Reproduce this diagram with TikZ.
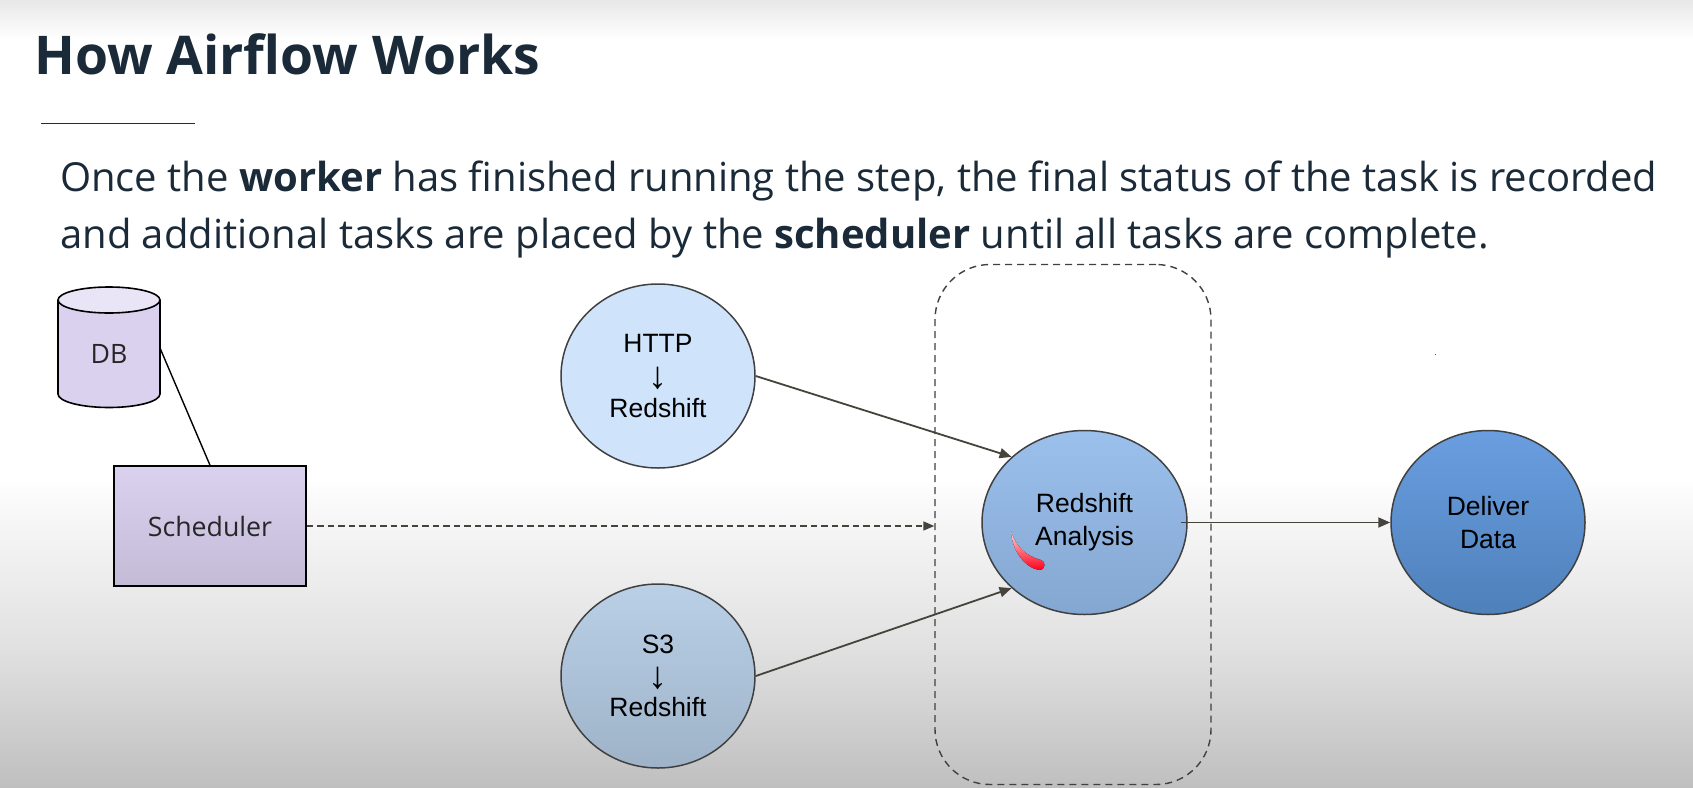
\documentclass[tikz,border=0pt]{standalone}
\usepackage{fontspec}
\setmainfont{Open Sans}
\newfontfamily\arialf{Liberation Sans}
\usetikzlibrary{arrows.meta,shapes.geometric,calc}
\definecolor{inkc}{HTML}{1B2A38}
\definecolor{linec}{HTML}{45433C}
\tikzset{
  x=1pt,y=-1pt,
  flow/.style={draw=linec,line width=1.8pt,-{Triangle[length=12pt,width=10pt]}},
  taskc/.style={ellipse,draw=black!75,line width=1.5pt,minimum width=194pt,minimum height=184pt,inner sep=0pt,align=center,font=\arialf\fontsize{26.5}{33}\selectfont,text=black},
  bodytxt/.style={anchor=base west,inner sep=0pt,text=inkc,font=\fontsize{40}{44}\selectfont},
  purtxt/.style={font=\fontsize{26.7}{32}\selectfont,text=black!85},
}
\newcommand{\downarrowtxt}{\smash{\raisebox{-4pt}{\arialf\fontsize{38}{33}\selectfont ↓}}}
\begin{document}
\begin{tikzpicture}
\useasboundingbox (0,0) rectangle (1693,787);
% background
\fill[white] (0,0) rectangle (1693,787);
\shade[top color=black!9,bottom color=white] (0,0) rectangle (1693,40);
\shade[top color=white,bottom color=black!2] (0,478) rectangle (1693,500);
\shade[top color=black!2,bottom color=black!12] (0,499.5) rectangle (1693,650);
\shade[top color=black!12,bottom color=black!25] (0,649.5) rectangle (1693,787);
% title
\node[anchor=base west,inner sep=0pt,text=inkc,font=\bfseries\fontsize{53.4}{54}\selectfont] (title) at (34,74) {How Airflow Works};
\coordinate (ruleL) at (41,123.5);
\coordinate (ruleR) at (195,123.5);
\draw[black!70!brown,line width=1.3pt] (ruleL) -- (ruleR);
\node[bodytxt] (lineA) at (60,191) {Once the \textbf{worker} has finished running the step, the final status of the task is recorded};
\node[bodytxt] (lineB) at (60,248) {and additional tasks are placed by the \textbf{scheduler} until all tasks are complete.};
% dashed group
\node[draw=black!75,dashed,dash pattern=on 7pt off 5pt,line width=1.4pt,rounded corners=55pt,minimum width=276pt,minimum height=520pt,inner sep=0pt] (group) at (1073,524.5) {};
% DB cylinder
\coordinate (dbtop) at (109,300);
\fill[fill={rgb,255:red,217;green,209;blue,238}] (58,300) -- (58,394) arc[start angle=180,end angle=0,x radius=51,y radius=13.5] -- (160,300) arc[start angle=0,end angle=180,x radius=51,y radius=13.5] -- cycle;
\draw[black,line width=1.6pt,fill={rgb,255:red,234;green,229;blue,246}] (dbtop) ellipse[x radius=51,y radius=13];
\draw[black,line width=1.6pt] (58,300) -- (58,394) arc[start angle=180,end angle=0,x radius=51,y radius=13.5] -- (160,300);
\node[inner sep=0pt,purtxt] (db) at (109,354) {DB};
\coordinate (dbR) at (160,348);
% scheduler
\node[rectangle,draw=black,line width=1.6pt,top color={rgb,255:red,217;green,209;blue,238},bottom color={rgb,255:red,196;green,187;blue,215},minimum width=192pt,minimum height=120pt,inner sep=0pt,purtxt] (sch) at (210,526) {Scheduler};
\draw[black,line width=1.4pt] (dbR) -- (sch.north);
% tasks
\node[taskc,fill={rgb,255:red,207;green,227;blue,250}] (http) at (658,376) {HTTP\\[-1pt]\downarrowtxt\\[0pt]Redshift};
\node[taskc,top color={rgb,255:red,186;green,208;blue,231},bottom color={rgb,255:red,158;green,179;blue,200}] (s3) at (658,676) {S3\\[-2pt]\downarrowtxt\\[-1pt]Redshift};
\node[taskc,minimum width=205pt,top color={rgb,255:red,155;green,192;blue,236},bottom color={rgb,255:red,132;green,167;blue,209}] (ana) at (1084.5,522.5) {\raisebox{-3pt}{Redshift}\\\raisebox{-3pt}{Analysis}};
\node[taskc,top color={rgb,255:red,106;green,158;blue,224},bottom color={rgb,255:red,78;green,128;blue,186}] (del) at (1488,522.5) {\raisebox{-3pt}{Deliver}\\\raisebox{-3pt}{Data}};
% connectors
\draw[flow] (http.east) -- (ana.138);
\draw[flow] (s3.east) -- (ana.222);
\draw[flow] (ana.east) ++(-7,0) coordinate (anaE) -- (del.west);
\draw[draw=linec,line width=1.6pt,dashed,dash pattern=on 6.5pt off 4pt,-{Triangle[length=11pt,width=9pt]}] (sch.east) -- (sch.east -| group.west);
% red stroke
\fill[top color=red!15!white,bottom color=red!90!magenta] (1011,531) .. controls (1016,547) and (1026,556) .. (1041,560) .. controls (1046,561) and (1046,570) .. (1039,570) .. controls (1026,568) and (1012,552) .. (1011,531) -- cycle;
% speck
\fill[blue!40!gray] (1434.5,353.5) rectangle (1436,355);
\end{tikzpicture}
\end{document}
